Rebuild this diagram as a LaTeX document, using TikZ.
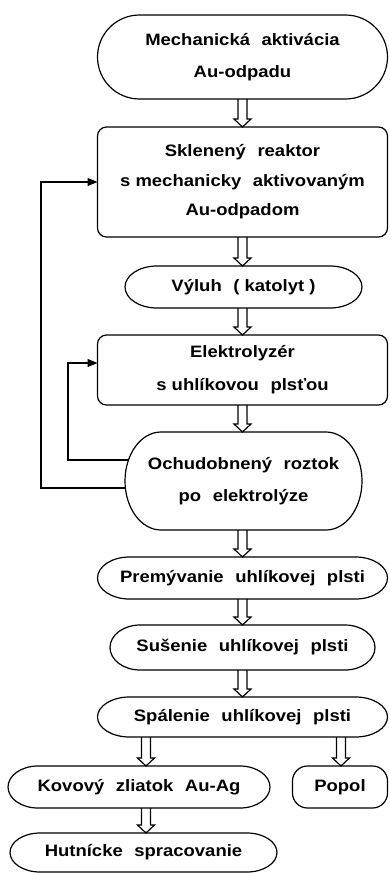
\documentclass[tikz,border=0pt]{standalone}
\usepackage{fontspec}
\setmainfont{Liberation Sans}[FakeStretch=1.12]
\usetikzlibrary{calc,arrows.meta}
\newcommand\gap{\hspace{0.7em}}
\newcommand\termline[2]{\draw[outline] let \p1=(#1.north), \p2=(#1.south) in
  ([xshift=#2pt]#1.north west) -- ([xshift=-#2pt]#1.north east)
  arc[start angle=90,end angle=-90,x radius=#2pt,y radius={(\y1-\y2)/2}]
  -- ([xshift=#2pt]#1.south west)
  arc[start angle=270,end angle=90,x radius=#2pt,y radius={(\y1-\y2)/2}] -- cycle;}
\tikzset{
  outline/.style={draw, line width=1.2pt},
  lbl/.style={rectangle, inner sep=0pt, outer sep=0pt, align=center,
    font=\fontsize{16.5}{32}\selectfont\bfseries},
  rbox/.style={lbl, outline, rounded corners=9pt},
  harrow/.style={outline, to path={
    ($(\tikztostart)+(-4.5,0)$) -- ($(\tikztotarget)+(-4.5,8)$) -- ($(\tikztotarget)+(-8.5,8)$)
    -- (\tikztotarget) -- ($(\tikztotarget)+(8.5,8)$) -- ($(\tikztotarget)+(4.5,8)$)
    -- ($(\tikztostart)+(4.5,0)$)}},
  fb/.style={line width=1.2pt, -{Triangle[length=10pt,width=8pt]}},
}
\begin{document}
\begin{tikzpicture}[x=1pt,y=1pt]
\fill[white] (0,0) rectangle (389,-873);
\useasboundingbox (0,0) rectangle (389,-873);
% nodes
\node[lbl, minimum width=290, minimum height=84] (mech) at (242.5,-57)
  {Mechanická\gap aktivácia\\Au-odpadu};
\node[rbox, minimum width=290, minimum height=110, font=\fontsize{16.5}{29.5}\selectfont\bfseries] (reak) at (242.5,-182)
  {Sklenený\gap reaktor\\s mechanicky\gap aktivovaným\\Au-odpadom};
\node[lbl, minimum width=237, minimum height=42] (vyluh) at (243.5,-287)
  {Výluh\gap ( katolyt )};
\node[rbox, minimum width=290, minimum height=70, font=\fontsize{16.5}{33}\selectfont\bfseries] (elek) at (242.5,-370)
  {Elektrolyzér\\s uhlíkovou\gap plsťou};
\node[lbl, minimum width=237, minimum height=98] (ochud) at (243.5,-481)
  {Ochudobnený\gap roztok\\po\gap elektrolýze};
\node[lbl, minimum width=290, minimum height=42] (prem) at (242.5,-578)
  {Premývanie\gap uhlíkovej\gap plsti};
\node[lbl, minimum width=265, minimum height=45] (susen) at (242.5,-647.5)
  {Sušenie\gap uhlíkovej\gap plsti};
\node[lbl, minimum width=290, minimum height=40] (spal) at (242.5,-717)
  {Spálenie\gap uhlíkovej\gap plsti};
\node[lbl, minimum width=262, minimum height=42] (kov) at (139,-787)
  {Kovový\gap zliatok\gap Au-Ag};
\node[rbox, minimum width=95, minimum height=42, rounded corners=15pt] (popol) at (340,-787)
  {Popol};
\node[lbl, minimum width=267, minimum height=39] (hut) at (143.5,-852.5)
  {Hutnícke\gap spracovanie};
% outlines of the terminal shapes
\termline{mech}{42}
\termline{vyluh}{32}
\termline{ochud}{36}
\termline{prem}{32}
\termline{susen}{30}
\termline{spal}{32}
\termline{kov}{30}
\termline{hut}{30}
% hollow arrows
\draw[harrow] (mech.south) to (reak.north);
\draw[harrow] (reak.south) to (vyluh.north -| reak.south);
\draw[harrow] (vyluh.south -| elek.north) to (elek.north);
\draw[harrow] (elek.south) to (ochud.north -| elek.south);
\draw[harrow] (ochud.south -| prem.north) to (prem.north);
\draw[harrow] (prem.south) to (susen.north);
\draw[harrow] (susen.south) to (spal.north);
\coordinate (s1) at ([xshift=-96.5pt]spal.south);
\coordinate (s2) at ([xshift=98.5pt]spal.south);
\coordinate (k1) at ([xshift=7pt]kov.south);
\draw[harrow] (s1) to (s1 |- kov.north);
\draw[harrow] (s2) to (s2 |- popol.north);
\draw[harrow] (k1) to (k1 |- hut.north);
% feedback loops
\coordinate (i1) at (68,-363);
\coordinate (o1) at (41,-182);
\draw[fb] ([xshift=3pt,yshift=21pt]ochud.west) -| (i1) -- ([yshift=7pt]elek.west);
\draw[fb] ([xshift=0.5pt,yshift=-7pt]ochud.west) -| (o1) -- (reak.west);
\end{tikzpicture}
\end{document}
